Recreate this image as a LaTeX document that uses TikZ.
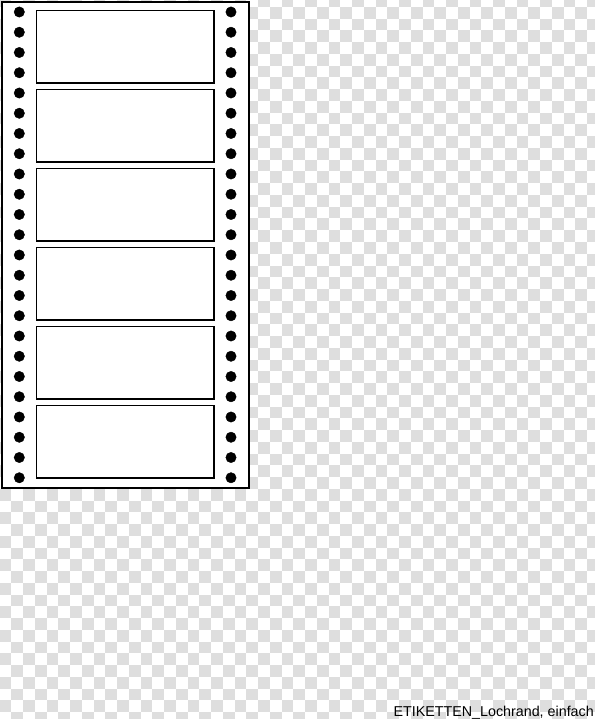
\documentclass[tikz,border=0pt]{standalone}
\usepackage{fontspec}
\setmainfont{Liberation Sans}
\definecolor{checkgray}{RGB}{222,222,222}
\begin{document}
\begin{tikzpicture}[x=1pt,y=-1pt]
            \useasboundingbox (0,0) rectangle (594,719);
            % transparency checkers
            \fill[white] (0,0) rectangle (594,719);
            \foreach \i in {0,...,51} {
              \foreach \j in {0,...,62} {
                \pgfmathparse{int(mod(\i+\j,2))}
                \ifnum\pgfmathresult=0
                  \fill[checkgray] (\i*11.75-0.5,\j*11.75-4.75) rectangle ++(11.75,11.75);
                \fi
              }
            }
            
            % strip
            \draw[line width=2pt,fill=white] (2,2) rectangle (248.5,487.5);
            \foreach \k in {0,...,23} {
              \filldraw (19.3,12+\k*20.25) circle (5.2);
              \filldraw (231,12+\k*20.25) circle (5.2);
            }
            
            % labels
            \foreach \k in {0,...,5} {
              \draw[line width=1.8pt] (36.5,10.5+\k*79) rectangle ++(177.5,72.5);
            }
            
            \node[anchor=base east,inner sep=0pt,font=\fontsize{14.3}{16}\selectfont] (caption) at (594,716.5) {ETIKETTEN\_Lochrand, einfach};
        \end{tikzpicture}
\end{document}
